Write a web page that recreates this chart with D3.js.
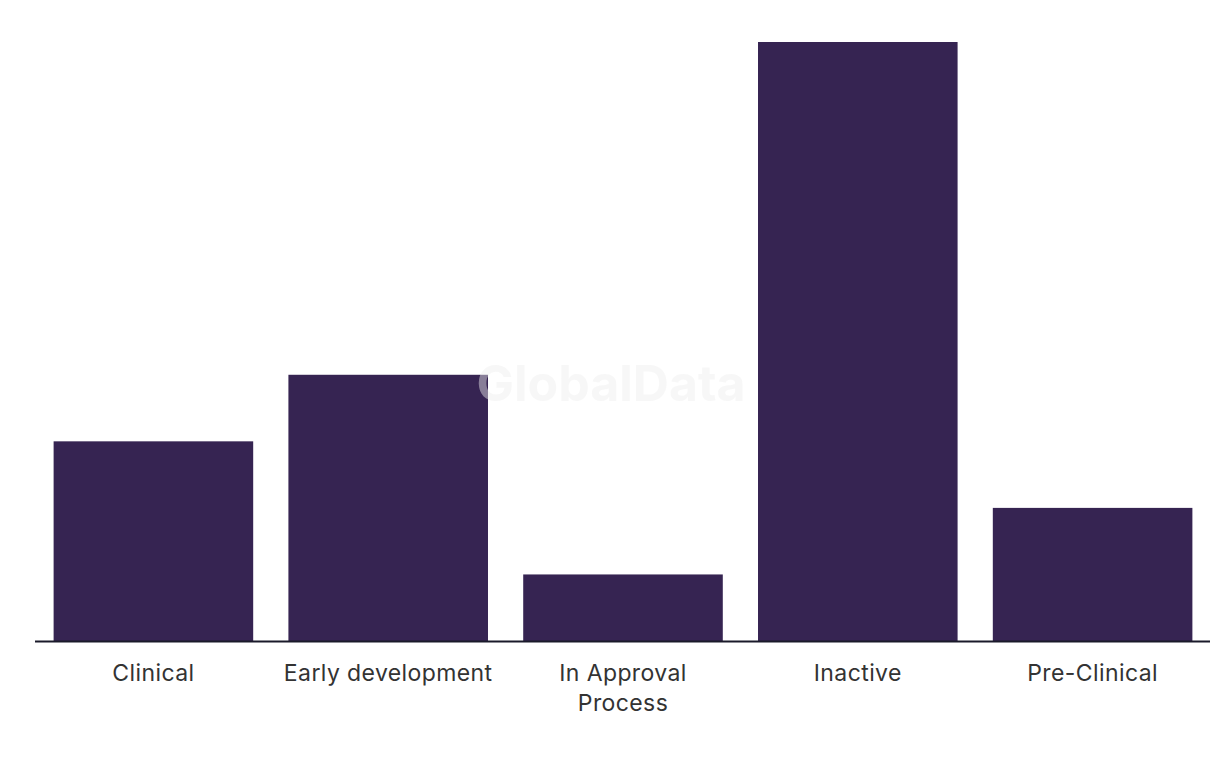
<!DOCTYPE html>
<html><head><meta charset="utf-8">
<script src="https://d3js.org/d3.v7.min.js"></script>
<style>body{margin:0;background:#fff;} svg{display:block;}</style>
</head><body>
<svg id="c" width="1220" height="766"></svg>
<script>
const categories = ["Clinical", "Early development", "In Approval Process", "Inactive", "Pre-Clinical"];
const labelLines = [["Clinical"], ["Early development"], ["In Approval", "Process"], ["Inactive"], ["Pre-Clinical"]];
const values = [3, 4, 1, 9, 2];

const svg = d3.select("#c");
const x = d3.scaleBand().domain(categories).range([36, 1210]).paddingInner(0.15).paddingOuter(0.075);
const y = d3.scaleLinear().domain([0, 9]).range([641, 42]);

svg.append("g").selectAll("rect").data(values).join("rect")
  .attr("x", (d, i) => x(categories[i]))
  .attr("width", x.bandwidth())
  .attr("y", d => y(d))
  .attr("height", d => y(0) - y(d))
  .attr("fill", "#362452");

svg.append("text").attr("x", 611).attr("y", 401).attr("text-anchor", "middle")
  .attr("font-family", "Inter, 'Noto Sans', sans-serif").attr("font-weight", 700)
  .attr("font-size", 50).attr("fill", "#eeeeee").attr("fill-opacity", 0.45)
  .text("GlobalData");

svg.append("line").attr("x1", 35).attr("x2", 1210).attr("y1", 641.5).attr("y2", 641.5)
  .attr("stroke", "#1a1a2a").attr("stroke-width", 2);

const lab = svg.append("g").selectAll("text").data(categories).join("text")
  .attr("x", d => x(d) + x.bandwidth() / 2)
  .attr("y", 681)
  .attr("text-anchor", "middle")
  .attr("font-family", "Inter, 'Noto Sans', sans-serif")
  .attr("letter-spacing", 0.4)
  .attr("font-size", 23).attr("fill", "#333");
lab.each(function(d, i) {
  d3.select(this).selectAll("tspan").data(labelLines[i]).join("tspan")
    .attr("x", x(d) + x.bandwidth() / 2)
    .attr("dy", (t, j) => j === 0 ? 0 : 30)
    .text(t => t);
});
</script>
</body></html>
